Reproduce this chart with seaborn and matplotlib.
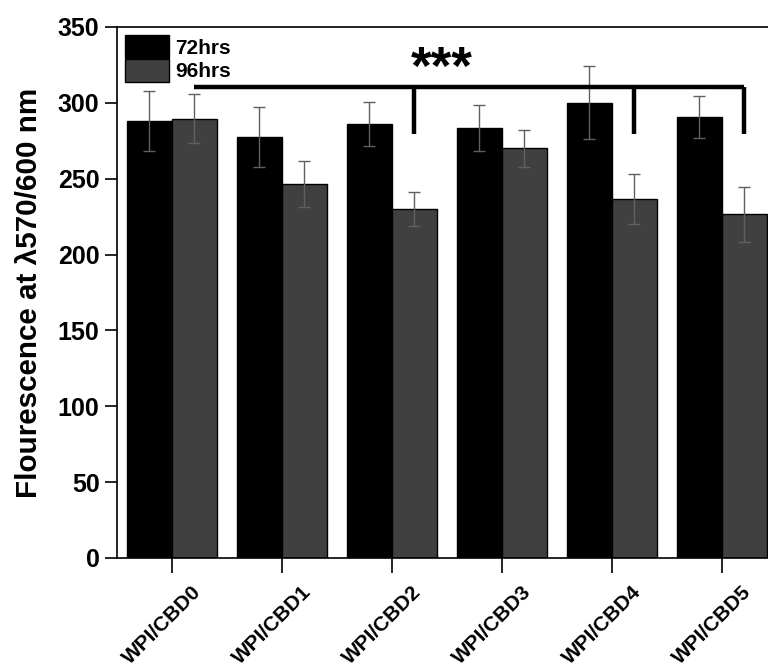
import numpy as np
import pandas as pd
import matplotlib
matplotlib.use("Agg")
import matplotlib.pyplot as plt
import matplotlib.transforms as mtransforms
import seaborn as sns

# Data
samples = ["WPI/CBD0", "WPI/CBD1", "WPI/CBD2", "WPI/CBD3", "WPI/CBD4", "WPI/CBD5"]
mean_72 = [288, 277.5, 286, 283.5, 300, 290.5]
sd_72 = [20, 19.5, 14.5, 15, 24, 14]
mean_96 = [289.5, 246.5, 230, 270, 236.5, 226.5]
sd_96 = [16, 15, 11, 12, 16.5, 18]
groups = ["72hrs", "96hrs"]

df = pd.DataFrame({
    "Sample": samples * 2,
    "Time": [groups[0]] * 6 + [groups[1]] * 6,
    "Value": mean_72 + mean_96,
    "SD": sd_72 + sd_96,
})

sns.set_style("ticks")
plt.rcParams["font.family"] = ["Liberation Sans", "DejaVu Sans"]
plt.rcParams["font.weight"] = "bold"
plt.rcParams["text.color"] = "black"
plt.rcParams["axes.labelcolor"] = "black"
plt.rcParams["xtick.color"] = "black"
plt.rcParams["ytick.color"] = "black"
plt.rcParams["axes.edgecolor"] = "black"

fig = plt.figure(figsize=(7.68, 6.68), dpi=100)
ax = fig.add_axes([0.1523, 0.1647, 0.8477, 0.7949])

sns.barplot(data=df, x="Sample", y="Value", hue="Time", palette=["#000000", "#404040"],
            width=0.82, errorbar=None, edgecolor="black", linewidth=1, saturation=1, ax=ax)

# Error bars on each bar (patches follow hue order, then category order)
bars = [p for p in ax.patches if p.get_height() > 0]
sds = sd_72 + sd_96
for p, s in zip(bars, sds):
    xc = p.get_x() + p.get_width() / 2
    ax.errorbar(xc, p.get_height(), yerr=s, color="#606060", elinewidth=1,
                capsize=4, capthick=1, zorder=5)

ax.set_ylim(0, 350)
ax.set_xlim(-0.5, 5.42)
ax.set_yticks(range(0, 351, 50))
ax.tick_params(axis="y", direction="out", length=9, width=1.2, labelsize=18)
ax.tick_params(axis="x", direction="out", length=11, width=1.2, labelsize=15)
for lbl in ax.get_yticklabels() + ax.get_xticklabels():
    lbl.set_fontweight("bold")
offset = mtransforms.ScaledTranslation(20 / 100, -4 / 100, fig.dpi_scale_trans)
for lbl in ax.get_xticklabels():
    lbl.set_rotation(45)
    lbl.set_ha("right")
    lbl.set_rotation_mode("anchor")
    lbl.set_transform(lbl.get_transform() + offset)

ax.set_xlabel("")
ax.set_ylabel("Flourescence at \u03bb570/600 nm", fontsize=21.3, fontweight="bold", labelpad=11)

for side in ["left", "bottom", "top"]:
    ax.spines[side].set_linewidth(1.2)
    ax.spines[side].set_visible(True)
ax.spines["right"].set_visible(False)

# Legend
handles, labels = ax.get_legend_handles_labels()
ax.legend(handles, labels, loc="upper left", frameon=False,
          handlelength=2.1, handleheight=1.3, handletextpad=0.3,
          labelspacing=0.05, borderaxespad=0.2, borderpad=0.2,
          prop={"weight": "bold", "size": 15})

# Significance bracket
y_top, y_drop = 310.5, 279.5
x0 = 0.205
drops = [2.205, 4.205, 5.205]
ax.plot([x0, drops[-1]], [y_top, y_top], color="black", lw=3.2, solid_capstyle="butt", zorder=6)
for xd in drops:
    ax.plot([xd, xd], [y_top, y_drop], color="black", lw=3.2, solid_capstyle="butt", zorder=6)
ax.text(2.455, 322, "***", ha="center", va="center", fontsize=38, fontweight="bold")

fig.savefig("out.png", dpi=100)
